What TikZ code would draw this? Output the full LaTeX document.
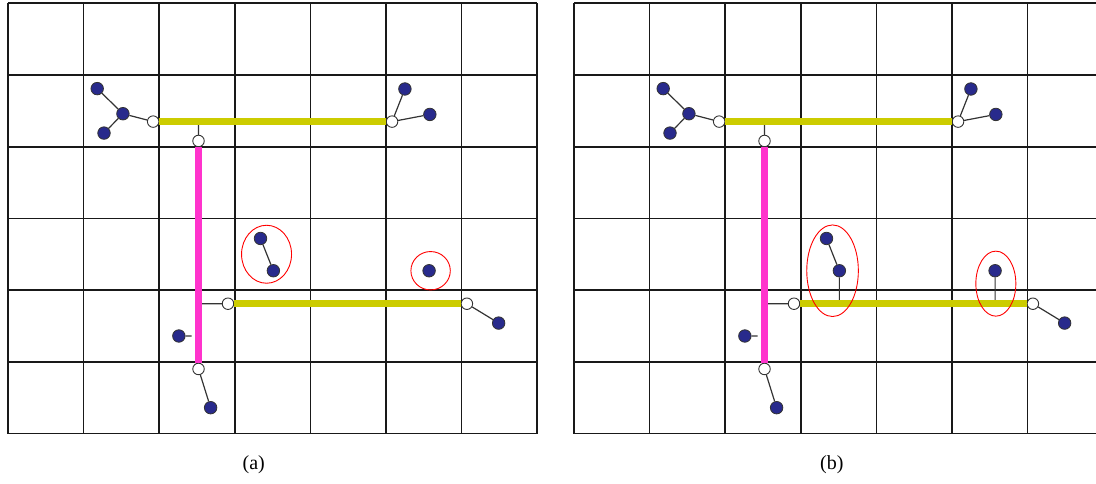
\documentclass[tikz,border=0pt]{standalone}
\usepackage{fontspec}
\setmainfont{Liberation Serif}
\usepackage{xcolor}
\usepackage{tikz}
\usetikzlibrary{positioning}

\definecolor{atomblue}{RGB}{40,42,140}
\definecolor{bondyellow}{RGB}{204,204,0}
\definecolor{bondpink}{RGB}{255,51,204}

\tikzset{
    atom/.style={circle, draw=black!80, fill=atomblue, line width=0.8pt, inner sep=0pt, minimum size=12.5pt},
    port/.style={circle, draw=black!80, fill=white, line width=0.9pt, inner sep=0pt, minimum size=11.5pt},
    link/.style={draw=black!80, line width=1.2pt},
    hbar/.style={draw=bondyellow, line width=6.7pt},
    vbar/.style={draw=bondpink, line width=6.7pt},
    ring/.style={draw=red, line width=0.9pt},
    gridline/.style={draw=black!90, line width=1.7pt},
    caption/.style={font=\fontsize{20}{24}\selectfont}
}

\begin{document}
\begin{tikzpicture}[x=75.6pt, y=-71.7pt]
    \useasboundingbox (-8pt,3.3pt) rectangle (1088pt,-480.7pt);

    % panel (a)
    \begin{scope}
        \foreach \c in {0,...,7} \draw[gridline] (\c,0) -- (\c,6);
        \foreach \r in {0,...,6} \draw[gridline] (0,\r) -- (7,\r);

        \node[atom] (a-h)  at (1.52,1.54) {};
        \node[atom] (a-h1) at (1.18,1.19) {};
        \node[atom] (a-h2) at (1.27,1.81) {};
        \node[port] (a-p1) at (1.92,1.65) {};
        \node[port] (a-p2) at (5.08,1.65) {};
        \node[atom] (a-r1) at (5.25,1.195) {};
        \node[atom] (a-r2) at (5.58,1.55) {};
        \node[port] (a-q1) at (2.52,1.92) {};
        \node[port] (a-q2) at (2.52,5.10) {};
        \node[atom] (a-d)  at (2.68,5.64) {};
        \node[atom] (a-s)  at (2.26,4.64) {};
        \node[port] (a-p3) at (2.91,4.19) {};
        \node[port] (a-p4) at (6.07,4.19) {};
        \node[atom] (a-e)  at (6.49,4.46) {};
        \node[atom] (a-m1) at (3.34,3.28) {};
        \node[atom] (a-m2) at (3.51,3.73) {};
        \node[atom] (a-m3) at (5.57,3.73) {};
        \coordinate (a-t1) at (2.52,1.65);
        \coordinate (a-t2) at (2.565,4.19);
        \coordinate (a-s0) at (2.43,4.64);

        \path[link]
        (a-h) -- (a-h1)
        (a-h) -- (a-h2)
        (a-h) -- (a-p1)
        (a-p2) -- (a-r1)
        (a-p2) -- (a-r2)
        (a-t1) -- (a-q1)
        (a-t2) -- (a-p3)
        (a-s) -- (a-s0)
        (a-q2) -- (a-d)
        (a-p4) -- (a-e)
        (a-m1) -- (a-m2);

        \path[hbar] (a-p1) -- (a-p2);
        \path[hbar] (a-p3) -- (a-p4);
        \path[vbar] (a-q1) -- (a-q2);

        \draw[ring] (3.42,3.50) ellipse [x radius=25pt, y radius=29pt];
        \draw[ring] (5.59,3.73) ellipse [x radius=19.7pt, y radius=19.2pt];

        \node[caption] (a-cap) at (3.25,6.44) {(a)};
    \end{scope}

    % panel (b)
    \begin{scope}[xshift=566pt]
        \foreach \c in {0,...,7} \draw[gridline] (\c,0) -- (\c,6);
        \foreach \r in {0,...,6} \draw[gridline] (0,\r) -- (7,\r);

        \node[atom] (b-h)  at (1.52,1.54) {};
        \node[atom] (b-h1) at (1.18,1.19) {};
        \node[atom] (b-h2) at (1.27,1.81) {};
        \node[port] (b-p1) at (1.92,1.65) {};
        \node[port] (b-p2) at (5.08,1.65) {};
        \node[atom] (b-r1) at (5.25,1.195) {};
        \node[atom] (b-r2) at (5.58,1.55) {};
        \node[port] (b-q1) at (2.52,1.92) {};
        \node[port] (b-q2) at (2.52,5.10) {};
        \node[atom] (b-d)  at (2.68,5.64) {};
        \node[atom] (b-s)  at (2.26,4.64) {};
        \node[port] (b-p3) at (2.91,4.19) {};
        \node[port] (b-p4) at (6.07,4.19) {};
        \node[atom] (b-e)  at (6.49,4.46) {};
        \node[atom] (b-m1) at (3.34,3.28) {};
        \node[atom] (b-m2) at (3.51,3.73) {};
        \node[atom] (b-m3) at (5.57,3.73) {};
        \coordinate (b-t1) at (2.52,1.65);
        \coordinate (b-t2) at (2.565,4.19);
        \coordinate (b-s0) at (2.43,4.64);
        \coordinate (b-u2) at (3.51,4.19);
        \coordinate (b-u3) at (5.57,4.19);

        \path[link]
        (b-h) -- (b-h1)
        (b-h) -- (b-h2)
        (b-h) -- (b-p1)
        (b-p2) -- (b-r1)
        (b-p2) -- (b-r2)
        (b-t1) -- (b-q1)
        (b-t2) -- (b-p3)
        (b-s) -- (b-s0)
        (b-q2) -- (b-d)
        (b-p4) -- (b-e)
        (b-m1) -- (b-m2)
        (b-m2) -- (b-u2)
        (b-m3) -- (b-u3);

        \path[hbar] (b-p1) -- (b-p2);
        \path[hbar] (b-p3) -- (b-p4);
        \path[vbar] (b-q1) -- (b-q2);

        \draw[ring] (3.42,3.73) ellipse [x radius=25.8pt, y radius=45.8pt];
        \draw[ring] (5.58,3.91) ellipse [x radius=20pt, y radius=32.5pt];

        \node[caption] (b-cap) at (3.41,6.44) {(b)};
    \end{scope}
\end{tikzpicture}
\end{document}
